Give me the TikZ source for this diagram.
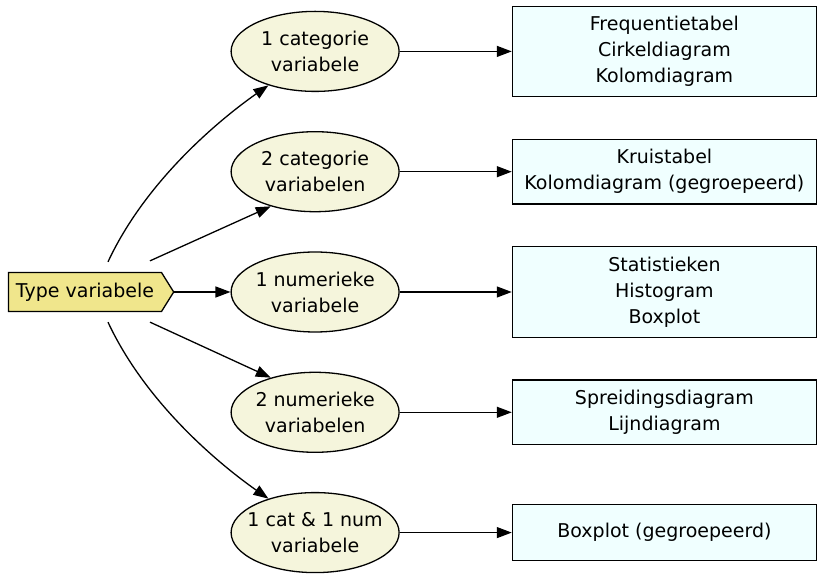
\documentclass[tikz,border=0pt]{standalone}
\usepackage{fontspec}
\setmainfont{DejaVu Sans}
\usepackage{xcolor}
\usepackage{tikz}
\usetikzlibrary{shapes,shapes.symbols,arrows.meta,positioning}
\definecolor{khaki}{HTML}{F0E68C}
\definecolor{beige}{HTML}{F5F5DC}
\definecolor{azure}{HTML}{F0FFFF}
\tikzset{>={Triangle[length=15pt,width=11pt]}}
\tikzset{start node/.style={signal,signal to=east,signal pointer angle=116,fill=khaki,draw,minimum height=39pt,inner xsep=7.5pt,inner ysep=0pt},
         var node/.style={ellipse,fill=beige,draw,minimum width=168pt,minimum height=80pt,inner xsep=-12pt,inner ysep=0pt,align=center},
         plot node/.style={rectangle,fill=azure,draw,minimum width=304pt,minimum height=56pt,inner ysep=10pt,align=center},
            }

\begin{document}
\begin{tikzpicture}[font=\fontsize{19}{26}\selectfont,line width=1.3pt]

    \useasboundingbox (-85pt,-294pt) rectangle (738pt,292pt);

    \node[start node] (type) {Type variabele};
    \node[var node] (v3) [right = 56pt of type] {1 numerieke\\variabele};
    \node[var node] (v2) [above = 39pt of v3] {2 categorie\\variabelen};
    \node[var node] (v1) [above = 39pt of v2] {1 categorie\\variabele};
    \node[var node] (v4) [below = 39pt of v3] {2 numerieke\\variabelen};
    \node[var node] (v5) [below = 39pt of v4] {1 cat \& 1 num\\variabele};

    \node[plot node] (g1) [right = 112pt of v1] {Frequentietabel\\Cirkeldiagram\\Kolomdiagram};
    \node[plot node] (g2) [right = 112pt of v2] {Kruistabel\\Kolomdiagram (gegroepeerd)};
    \node[plot node] (g3) [right = 112pt of v3] {Statistieken\\Histogram\\Boxplot};
    \node[plot node] (g4) [right = 112pt of v4] {Spreidingsdiagram\\Lijndiagram};
    \node[plot node] (g5) [right = 112pt of v5] {Boxplot (gegroepeerd)};

    % type -> variabelen
    \draw[->] ([shift={(23pt,10pt)}]type.north) .. controls +(65:100pt) and +(215:40pt) .. (v1.216);
    \draw[->] ([shift={(65pt,11pt)}]type.north) -- (v2.218);
    \draw[->] (type.east) -- (v3);
    \draw[->] ([shift={(65pt,-10pt)}]type.south) -- (v4.142);
    \draw[->] ([shift={(23pt,-10pt)}]type.south) .. controls +(-65:100pt) and +(145:40pt) .. (v5.144);

    % variabelen -> grafieken
    \path[draw,->]
    (v1) edge (g1)
    (v2) edge (g2)
    (v3) edge (g3)
    (v4) edge (g4)
    (v5) edge (g5);

\end{tikzpicture}
\end{document}
